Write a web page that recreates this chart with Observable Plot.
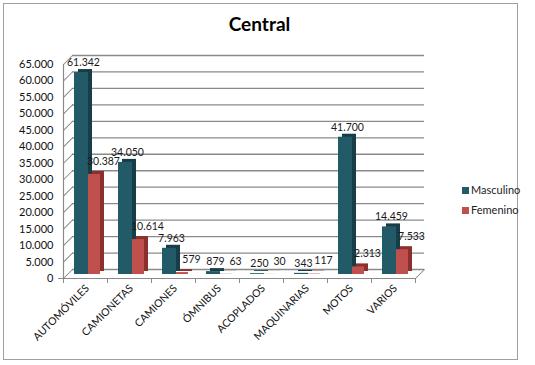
<!DOCTYPE html>
<html>
<head>
<meta charset="utf-8">
<script src="https://cdn.jsdelivr.net/npm/d3@7"></script>
<script src="https://cdn.jsdelivr.net/npm/@observablehq/plot@0.6"></script>
<style>
  html, body { margin: 0; padding: 0; background: #fff; }
  body { width: 535px; height: 365px; position: relative; overflow: hidden; font-family: Lato, "Open Sans", sans-serif; }
  #frame { position: absolute; left: 3px; top: 3px; width: 513px; height: 355px; border: 1px solid #a0a0a0; box-sizing: content-box; }
  #title { position: absolute; left: 0; width: 519px; top: 12px; text-align: center; font: bold 19px Lato, sans-serif; color: #000; }
  #chart { position: absolute; left: 0; top: 0; }
  #legend { position: absolute; left: 462px; top: 181px; font: 11px Lato, sans-serif; color: #222; }
  #legend div { height: 20px; line-height: 18px; white-space: nowrap; }
  #legend span.sw { display: inline-block; width: 7px; height: 7px; margin-right: 2px; vertical-align: 0px; }
</style>
</head>
<body>
<div id="frame"></div>
<div id="title">Central</div>
<div id="chart"></div>
<div id="legend"></div>
<script>
const categories = ["AUTOMÓVILES", "CAMIONETAS", "CAMIONES", "ÓMNIBUS", "ACOPLADOS", "MAQUINARIAS", "MOTOS", "VARIOS"];
const masculino = [61342, 34050, 7963, 879, 250, 343, 41700, 14459];
const femenino = [30387, 10614, 579, 63, 30, 117, 2313, 7533];
const seriesNames = ["Masculino", "Femenino"];
const seriesColors = ["#235a68", "#c0504d"];
const seriesSideColors = ["#173e48", "#8c302e"];
const yTicks = [0, 5000, 10000, 15000, 20000, 25000, 30000, 35000, 40000, 45000, 50000, 55000, 60000, 65000];

const locale = d3.formatLocale({decimal: ",", thousands: ".", grouping: [3], currency: ["$", ""]});
const fmt = locale.format(",d");

const rows = [];
categories.forEach((c, i) => {
  rows.push({cat: c, series: "Masculino", value: masculino[i]});
  rows.push({cat: c, series: "Femenino", value: femenino[i]});
});
const masc = rows.filter(d => d.series === "Masculino");
const fem = rows.filter(d => d.series === "Femenino");

const lineShape = {draw(context, l) { context.moveTo(0, 0); context.lineTo(0, -l); }};
const gridColor = "#8a8a8a";
const noLabel = () => "";

const plot = Plot.plot({
  width: 535,
  height: 365,
  marginLeft: 63,
  marginRight: 120,
  marginTop: 64,
  marginBottom: 87,
  style: {fontFamily: "Lato, sans-serif", background: "transparent", overflow: "visible"},
  x: {domain: categories, padding: 0, label: null},
  y: {domain: [0, 65000], label: null},
  marks: [
    // back-wall gridlines
    Plot.ruleY(yTicks, {y: d => d, dx: 9, dy: -9, stroke: gridColor, strokeWidth: 1.3}),
    // diagonal connectors from the axis to the back wall
    Plot.vector(yTicks, {x: () => categories[0], y: d => d, dx: -22, length: 12.7, rotate: 45, anchor: "start", shape: lineShape, stroke: gridColor, strokeWidth: 1}),
    // right floor edge
    Plot.vector([0], {x: () => categories[categories.length - 1], y: d => d, dx: 22, length: 12.7, rotate: 45, anchor: "start", shape: lineShape, stroke: gridColor, strokeWidth: 1}),
    // axis lines
    Plot.ruleX([categories[0]], {x: d => d, dx: -22, stroke: gridColor, strokeWidth: 1.2}),
    Plot.ruleY([0], {stroke: gridColor, strokeWidth: 1.2}),
    Plot.axisY({ticks: yTicks, tickFormat: d => fmt(d), tickSize: 0, tickPadding: 10, fontSize: 11, fill: "#111"}),
    Plot.axisY({ticks: [0], tickFormat: noLabel, tickSize: 5, stroke: gridColor}),
    Plot.axisX({tickSize: 5, tickFormat: noLabel, dx: -22, stroke: gridColor}),
    Plot.axisX({ticks: [categories[categories.length - 1]], tickSize: 5, tickFormat: noLabel, dx: 22, stroke: gridColor}),
    Plot.axisX({tickSize: 0, tickRotate: -45, fontSize: 10.5, tickPadding: 8, fill: "#111", textAnchor: "end", dx: 2}),
    // 3D faces
    Plot.barY(masc, {x: "cat", y: "value", insetLeft: 11, insetRight: 19, fill: seriesSideColors[0], dx: 4, dy: -7}),
    Plot.barY(masc, {x: "cat", y: "value", insetLeft: 11, insetRight: 19, fill: seriesColors[0], dy: -4}),
    Plot.barY(fem, {x: "cat", y: "value", insetLeft: 25, insetRight: 7, fill: seriesSideColors[1], dx: 4, dy: -7}),
    Plot.barY(fem, {x: "cat", y: "value", insetLeft: 25, insetRight: 7, fill: seriesColors[1], dy: -4}),
    // data labels
    Plot.text(masc, {x: "cat", y: "value", text: d => fmt(d.value), dx: -2, dy: -14, fontSize: 10.5, fill: "#1a1a1a"}),
    Plot.text(fem, {x: "cat", y: "value", text: d => fmt(d.value), dx: 18, dy: -17, fontSize: 10.5, fill: "#1a1a1a"})
  ]
});
document.getElementById("chart").appendChild(plot);

const legend = document.getElementById("legend");
seriesNames.forEach((n, i) => {
  const div = document.createElement("div");
  div.innerHTML = `<span class="sw" style="background:${seriesColors[i]}"></span>${n}`;
  legend.appendChild(div);
});
</script>
</body>
</html>
